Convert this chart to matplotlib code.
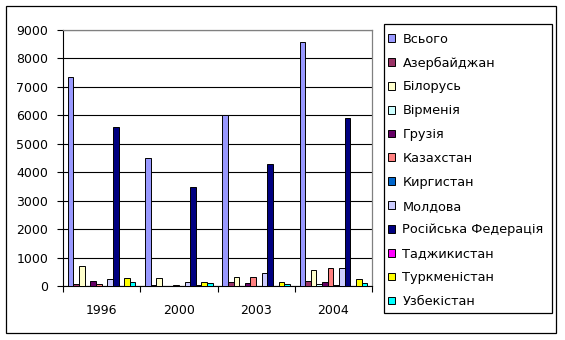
import matplotlib.pyplot as plt
import numpy as np
from matplotlib.patches import Rectangle, Patch

plt.rcParams['font.family'] = ['DejaVu Sans']

# data
years = ['1996', '2000', '2003', '2004']
countries = ['Всього', 'Азербайджан', 'Білорусь', 'Вірменія', 'Грузія', 'Казахстан',
             'Киргистан', 'Молдова', 'Російська Федерація', 'Таджикистан',
             'Туркменістан', 'Узбекістан']
vsogo = [7360, 4490, 6020, 8570]
azerb = [60, 20, 130, 165]
bilor = [700, 270, 305, 550]
virm = [15, 5, 15, 60]
gruz = [165, 15, 90, 130]
kazakh = [60, 45, 305, 620]
kyrgyz = [5, 5, 5, 20]
moldova = [235, 130, 445, 620]
russia = [5580, 3470, 4280, 5890]
tajik = [5, 45, 10, 10]
turkm = [270, 130, 130, 235]
uzbek = [130, 90, 60, 90]
values = [vsogo, azerb, bilor, virm, gruz, kazakh, kyrgyz, moldova, russia, tajik, turkm, uzbek]

colors = ['#9999FF', '#993366', '#FFFFCC', '#CCFFFF', '#660066', '#FF8080',
          '#0066CC', '#CCCCFF', '#000080', '#FF00FF', '#FFFF00', '#00FFFF']

W, H = 565, 340
fig = plt.figure(figsize=(W / 100, H / 100), dpi=100)

# chart area border
fig.patches.append(Rectangle((6 / W, 1 - 333 / H), 550 / W, 327 / H, transform=fig.transFigure,
                             fill=False, edgecolor='black', linewidth=0.9))

ax = fig.add_axes([63 / W, 1 - 286 / H, (372 - 63) / W, (286 - 30) / H])
x = np.arange(len(years))
bw = 0.073
n = len(countries)
for i, (vals, col) in enumerate(zip(values, colors)):
    ax.bar(x + (i - (n - 1) / 2) * bw, vals, width=bw, color=col,
           edgecolor='black', linewidth=0.7, zorder=3)

ax.set_xlim(-0.5, 3.5)
ax.set_ylim(0, 9000)
ax.set_yticks(np.arange(0, 9001, 1000))
ax.grid(axis='y', color='black', linewidth=0.8, zorder=0)
ax.set_xticks(x)
ax.set_xticklabels(years, fontsize=9)
ax.set_xticks(np.arange(-0.5, 3.6, 1), minor=True)
ax.tick_params(axis='x', which='major', length=0, pad=13)
ax.tick_params(axis='x', which='minor', length=4, direction='out', width=0.8)
ax.tick_params(axis='y', length=4, direction='out', width=0.8, labelsize=9, pad=6.5)
for s in ['left', 'bottom']:
    ax.spines[s].set_linewidth(0.8)
for s in ['top', 'right']:
    ax.spines[s].set_color('#808080')
    ax.spines[s].set_linewidth(0.9)

# legend box
fig.patches.append(Rectangle((384 / W, 1 - 313 / H), (552 - 384) / W, (313 - 24) / H,
                             transform=fig.transFigure, fill=False, edgecolor='black',
                             linewidth=0.9))
handles = [Patch(facecolor=c, edgecolor='black', linewidth=0.7) for c in colors]
fig.legend(handles, countries, loc='upper left', bbox_to_anchor=(385 / W, 1 - 30 / H),
           frameon=False, fontsize=9.3, handlelength=0.55, handleheight=0.55,
           handletextpad=0.6, labelspacing=0.84, borderaxespad=0, borderpad=0.2)

fig.savefig('out.png', dpi=100)
